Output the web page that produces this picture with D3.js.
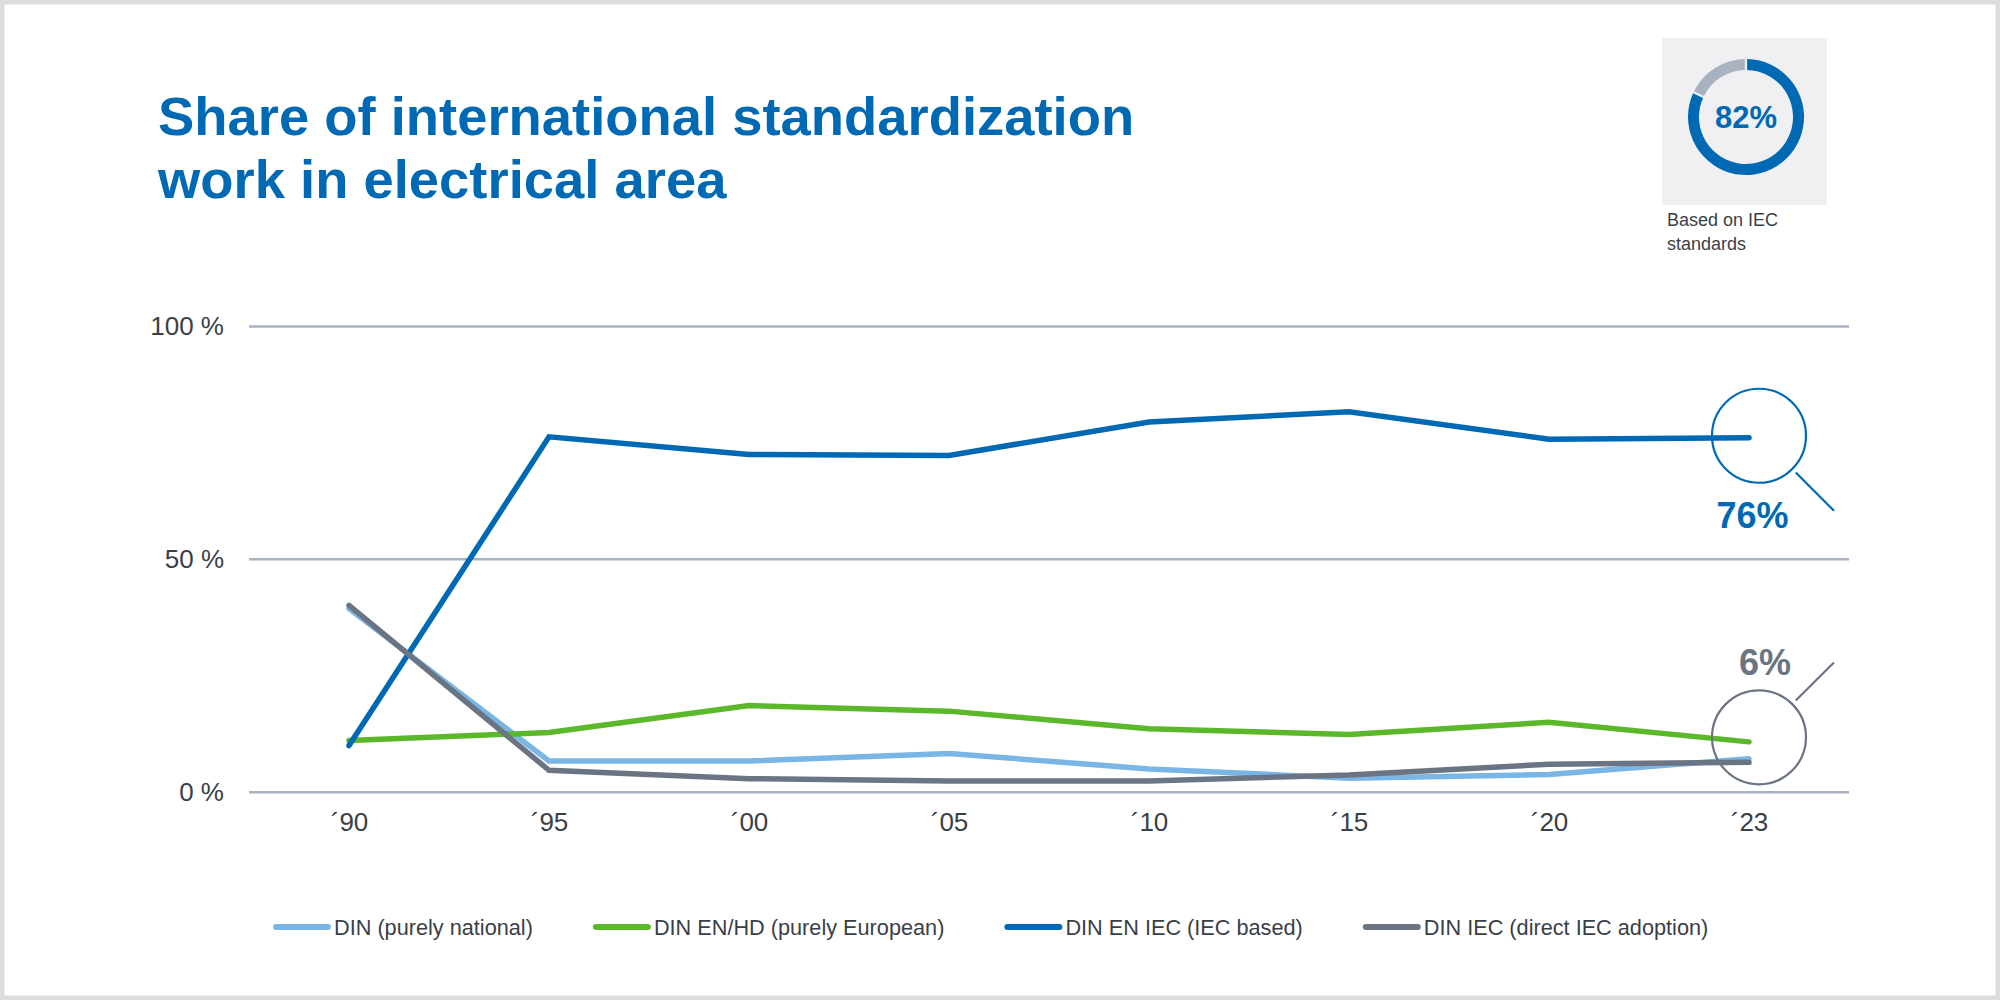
<!DOCTYPE html>
<html>
<head>
<meta charset="utf-8">
<script src="https://cdn.jsdelivr.net/npm/d3@7"></script>
<style>
  html, body { margin: 0; padding: 0; background: #fff; }
  svg { display: block; font-family: "Liberation Sans", Arial, sans-serif; }
</style>
</head>
<body>
<svg id="chart" width="2000" height="1000"></svg>
<script>
// ---------- data ----------
const categories = ["´90", "´95", "´00", "´05", "´10", "´15", "´20", "´23"];
const seriesNames = ["DIN (purely national)", "DIN EN/HD (purely European)", "DIN EN IEC (IEC based)", "DIN IEC (direct IEC adoption)"];
const dinNational = [39.3, 6.6, 6.6, 8.2, 4.9, 2.9, 3.7, 7.1];
const dinEuropean = [11.0, 12.7, 18.5, 17.3, 13.5, 12.3, 14.9, 10.7];
const dinIecBased = [9.9, 76.2, 72.4, 72.2, 79.4, 81.6, 75.7, 76.0];
const dinIecDirect = [40.0, 4.6, 2.8, 2.3, 2.3, 3.6, 5.9, 6.3];
const yTicks = [0, 50, 100];
const yTickLabels = ["0 %", "50 %", "100 %"];
const titleLines = ["Share of international standardization", "work in electrical area"];
const donutShare = [82, 18];
const donutLabel = "82%";
const donutCaption = ["Based on IEC", "standards"];
const calloutLabels = ["76%", "6%"];

const seriesValues = [dinNational, dinEuropean, dinIecBased, dinIecDirect];
const colors = ["#79b6e5", "#5bb82b", "#0069b4", "#6b7483"];

// ---------- setup ----------
const svg = d3.select("#chart");
const W = 2000, H = 1000;

svg.append("rect").attr("x", 2).attr("y", 2).attr("width", W - 4).attr("height", H - 4)
  .attr("fill", "#fff").attr("stroke", "#dcdcdc").attr("stroke-width", 5);

// title
const title = svg.append("text").attr("x", 158).attr("y", 135)
  .attr("fill", "#0069b4").attr("font-size", 54.4).attr("font-weight", "bold");
title.selectAll("tspan").data(titleLines).join("tspan")
  .attr("x", 158).attr("dy", (d, i) => i === 0 ? 0 : 63).text(d => d);

// scales
const x = d3.scalePoint().domain(categories).range([249, 1849]).padding(0.5);
const y = d3.scaleLinear().domain([0, 100]).range([791.7, 326]);

// gridlines
const grid = svg.append("g")
  .attr("transform", "translate(249,0)")
  .call(d3.axisLeft(y).tickValues(yTicks).tickSize(-1600).tickFormat(""));
grid.select(".domain").remove();
grid.selectAll(".tick line").attr("stroke", "#a9b2c2").attr("stroke-width", 2.5);

// y labels
const yAx = svg.append("g").attr("transform", "translate(224,0)")
  .call(d3.axisLeft(y).tickValues(yTicks).tickSize(0).tickPadding(0)
    .tickFormat((d, i) => yTickLabels[i]));
yAx.select(".domain").remove();
yAx.selectAll("text").attr("font-size", 26).attr("fill", "#3a3f47")
  .attr("font-family", "\"Liberation Sans\", Arial, sans-serif").attr("dy", "0.33em");

// x labels
const xAx = svg.append("g").attr("transform", "translate(0,805)")
  .call(d3.axisBottom(x).tickSize(0).tickPadding(0));
xAx.select(".domain").remove();
xAx.selectAll("text").attr("font-size", 26).attr("fill", "#3a3f47")
  .attr("font-family", "\"Liberation Sans\", Arial, sans-serif").attr("dy", "1em");

// lines
const line = d3.line().x((d, i) => x(categories[i])).y(d => y(d));
svg.append("g").selectAll("path").data(seriesValues).join("path")
  .attr("d", d => line(d))
  .attr("fill", "none")
  .attr("stroke", (d, i) => colors[i])
  .attr("stroke-width", 5.5)
  .attr("stroke-linecap", "round")
  .attr("stroke-linejoin", "miter");

// callouts
const lastCat = categories[categories.length - 1];
const callouts = [
  { v: dinIecBased[dinIecBased.length - 1], color: "#0069b4", dy: -2, dir: 1, label: calloutLabels[0], lx: -6.5, ly: 92.7 },
  { v: dinIecDirect[dinIecDirect.length - 1], color: "#6b7483", dy: -25, dir: -1, label: calloutLabels[1], lx: 6, ly: -62 }
];
const r = 47;
callouts.forEach(c => {
  const cx = x(lastCat) + 10, cy = y(c.v) + c.dy;
  const g = svg.append("g");
  g.append("circle").attr("cx", cx).attr("cy", cy).attr("r", r)
    .attr("fill", "none").attr("stroke", c.color).attr("stroke-width", 2.2);
  const a = Math.SQRT1_2;
  g.append("line")
    .attr("x1", cx + (r + 5) * a).attr("y1", cy + c.dir * (r + 5) * a)
    .attr("x2", cx + 106 * a).attr("y2", cy + c.dir * 106 * a)
    .attr("stroke", c.color).attr("stroke-width", 2.2);
  g.append("text").attr("x", cx + c.lx).attr("y", cy + c.ly)
    .attr("text-anchor", "middle").attr("font-size", 36).attr("font-weight", "bold")
    .attr("fill", c.color).text(c.label);
});

// donut box
svg.append("rect").attr("x", 1662).attr("y", 38).attr("width", 165).attr("height", 167)
  .attr("fill", "#f0f0f2");
const pie = d3.pie().sort(null).value(d => d);
const arc = d3.arc().innerRadius(47).outerRadius(58).padAngle(0.03);
const donut = svg.append("g").attr("transform", "translate(1746,117)");
donut.selectAll("path").data(pie(donutShare)).join("path")
  .attr("d", arc).attr("fill", (d, i) => i === 0 ? "#0069b4" : "#a8b2c1");
donut.append("text").attr("text-anchor", "middle").attr("y", 11)
  .attr("font-size", 31).attr("font-weight", "bold").attr("fill", "#0069b4").text(donutLabel);
svg.append("text").attr("font-size", 18).attr("fill", "#3a3f47")
  .selectAll("tspan").data(donutCaption).join("tspan")
  .attr("x", 1667).attr("y", (d, i) => 226 + i * 24).text(d => d);

// legend
const legend = svg.append("g").attr("transform", "translate(0,927)");
let lx = 273;
seriesNames.forEach((name, i) => {
  legend.append("line").attr("x1", lx + 3).attr("x2", lx + 55).attr("y1", 0).attr("y2", 0)
    .attr("stroke", colors[i]).attr("stroke-width", 6).attr("stroke-linecap", "round");
  const t = legend.append("text").attr("x", lx + 61).attr("y", 7.5)
    .attr("font-size", 21.7).attr("fill", "#3a3f47").text(name);
  lx += 61 + t.node().getComputedTextLength() + 60;
});
</script>
</body>
</html>
